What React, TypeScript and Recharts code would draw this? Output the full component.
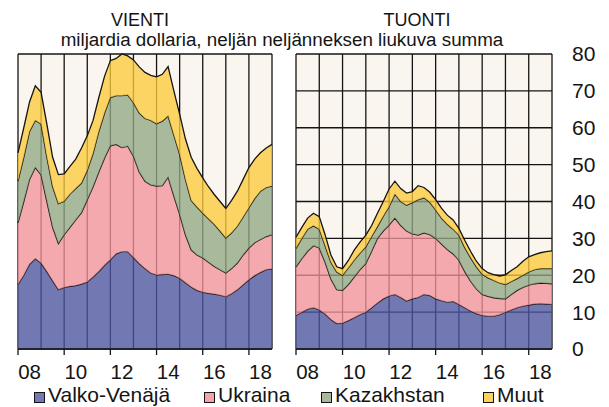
import { Area, AreaChart, CartesianGrid, XAxis, YAxis } from "recharts";

// quarterly points, 2008Q1 at the left edge
const quarters = [
  2008, 2008.25, 2008.5, 2008.75, 2009, 2009.25, 2009.5, 2009.75, 2010, 2010.25, 2010.5, 2010.75,
  2011, 2011.25, 2011.5, 2011.75, 2012, 2012.25, 2012.5, 2012.75, 2013, 2013.25, 2013.5, 2013.75,
  2014, 2014.25, 2014.5, 2014.75, 2015, 2015.25, 2015.5, 2015.75, 2016, 2016.25, 2016.5, 2016.75,
  2017, 2017.25, 2017.5, 2017.75, 2018, 2018.25, 2018.5, 2018.75, 2019,
];
const yearTicks = [2008, 2009, 2010, 2011, 2012, 2013, 2014, 2015, 2016, 2017, 2018, 2019];
const valueTicks = [0, 10, 20, 30, 40, 50, 60, 70, 80];

// VIENTI, mrd USD
const exportBelarus = [
  17.5, 20, 23, 24.5, 23.3, 21, 18.5, 16.1, 16.7, 17, 17.2, 17.6,
  18.2, 19.5, 21, 22.7, 24.2, 25.8, 26.4, 26.4, 24.8, 23.2, 21.8, 20.6,
  20.1, 20.2, 20.3, 19.9, 19.2, 18, 16.8, 15.9, 15.4, 15.1, 14.9, 14.6,
  14.2, 15, 16.1, 17.4, 18.8, 19.9, 20.8, 21.5, 21.7,
];
const exportUkraine = [
  16.7, 20, 23, 24.7, 23.9, 19, 14.5, 12.5, 14.3, 16, 17.8, 19.4,
  22.3, 24.5, 27, 29.1, 30.9, 29.7, 28.2, 28.6, 27.5, 24.8, 23.7, 23.9,
  24.1, 24.1, 26.3, 21.6, 17.3, 13, 10.1, 9.6, 9.3, 8.4, 7.5, 6.9,
  6.4, 6.8, 7.2, 8.1, 8.6, 8.9, 8.9, 9, 9.3,
];
const exportKazakhstan = [
  11.3, 12, 13, 12.8, 13.8, 12, 11, 10.8, 9.1, 9, 8.5, 8,
  8, 9, 11, 12.2, 13.1, 13.2, 14.1, 13.9, 14.5, 16, 17, 17.5,
  16.9, 17.5, 16.6, 16.5, 16.3, 15, 13.4, 13, 12.2, 11.8, 11.4, 10.5,
  9.5, 9.7, 10, 10.3, 10.9, 12, 13.1, 13.3, 13.2,
];
const exportOther = [
  7.7, 8, 8, 9.4, 8.6, 9, 8, 7.9, 7.4, 7.5, 8, 9.5,
  9.3, 9, 9.2, 10, 10, 10.1, 11.3, 10.6, 11.6, 12.5, 12.5, 12.2,
  12.7, 12.7, 13.4, 12, 10.9, 11, 11.7, 10.5, 9.5, 8.7, 8.1, 8,
  8, 8.8, 9.5, 10.2, 10.9, 10.7, 10.4, 10.7, 11.3,
];

// TUONTI, mrd USD
const importBelarus = [
  9.1, 10, 10.8, 11.2, 10.6, 9.5, 8, 6.9, 7, 7.7, 8.5, 9.3,
  10, 11.2, 12.5, 13.6, 14.4, 14.8, 14, 13, 13.6, 14, 14.8, 14.5,
  13.6, 13.1, 12.7, 12.9, 12.1, 11.2, 10.3, 9.6, 9.1, 8.9, 8.9, 9.3,
  10, 10.6, 11.2, 11.6, 11.9, 12.2, 12.3, 12.2, 12.1,
];
const importUkraine = [
  13.2, 14.5, 15.7, 16.8, 16.8, 14, 11, 9.2, 8.9, 9.8, 11, 12.2,
  13.2, 15.3, 17.5, 18.4, 19.2, 20.7, 19.5, 19, 17.6, 16.9, 16.7, 16.5,
  16.4, 15.4, 14.3, 12.9, 12, 9.8, 8.1, 6.7, 5.7, 5.4, 5, 4.4,
  3.6, 4.2, 4.7, 5.1, 5.4, 5.5, 5.6, 5.6, 5.6,
];
const importKazakhstan = [
  5, 5.5, 6, 5.4, 5.1, 4.5, 4.5, 4.8, 4.1, 4.5, 4.6, 4.5,
  4.5, 4, 3.2, 4, 5, 6.5, 6.5, 7, 8.5, 9.6, 9.5, 8.8,
  7.7, 7, 6.8, 6.7, 6.8, 6.5, 6.4, 6, 5.5, 5, 4.7, 4.2,
  3.9, 3.5, 3.2, 3.3, 3.6, 3.8, 3.9, 4, 4.1,
];
const importOther = [
  3, 3, 3, 3.4, 3.4, 3, 2, 1.4, 1.8, 2, 2.7, 3,
  3.2, 3, 3.6, 4, 4.8, 3.5, 3.5, 3.3, 3, 3.8, 2.8, 2.7,
  2.8, 2.7, 2.5, 2.5, 1.8, 2, 1.7, 1.5, 1.5, 1.4, 1.6, 1.9,
  2.6, 3, 3.2, 3.8, 4.1, 4.1, 4.3, 4.6, 4.8,
];

const SERIES = [
  { key: "belarus", name: "Valko-Venäjä", fill: "#4C55A0", swatch: "#7479B3" },
  { key: "ukraine", name: "Ukraina", fill: "#F1939A", swatch: "#F3A5A9" },
  { key: "kazakhstan", name: "Kazakhstan", fill: "#92A884", swatch: "#A7B99A" },
  { key: "other", name: "Muut", fill: "#FDCB3C", swatch: "#FDD35E" },
];

const PLOT_BG = "#FAF6EF";
const INK = "#141414";
const FONT = '"Liberation Sans", Arial, sans-serif';
const YEAR_PX = 23.2;
const LEGEND_LEFT = [34, 204, 321, 483];

const exportData = quarters.map((q, i) => ({
  q,
  belarus: exportBelarus[i],
  ukraine: exportUkraine[i],
  kazakhstan: exportKazakhstan[i],
  other: exportOther[i],
}));

const importData = quarters.map((q, i) => ({
  q,
  belarus: importBelarus[i],
  ukraine: importUkraine[i],
  kazakhstan: importKazakhstan[i],
  other: importOther[i],
}));

function YearTick({ x, y, payload }: any) {
  if (payload.value % 2 !== 0) return <g />;
  return (
    <g>
      <line x1={x} y1={y} x2={x} y2={y + 6} stroke={INK} strokeWidth={1.3} />
      <text x={x + YEAR_PX / 2} y={y + 30} textAnchor="middle" fontSize={20.5} fill={INK}>
        {String(payload.value).slice(2)}
      </text>
    </g>
  );
}

function Panel({ data, side }: { data: typeof exportData; side: "left" | "right" }) {
  const isLeft = side === "left";
  return (
    <div style={{ position: "absolute", left: isLeft ? 0 : 280, top: 0 }}>
      <AreaChart
        width={isLeft ? 280 : 329}
        height={407}
        data={data}
        margin={isLeft ? { top: 54, right: 8, bottom: 0, left: 10 } : { top: 54, right: 0, bottom: 0, left: 16 }}
      >
        <CartesianGrid stroke={INK} strokeWidth={1.3} fill={PLOT_BG} fillOpacity={1} />
        <XAxis
          dataKey="q"
          type="number"
          domain={[2008, 2019]}
          ticks={yearTicks}
          interval={0}
          height={58}
          tickSize={0}
          tickMargin={0}
          tickLine={false}
          axisLine={{ stroke: INK, strokeWidth: 1.3 }}
          tick={(props: any) => <YearTick {...props} />}
        />
        {isLeft ? (
          <YAxis
            orientation="left"
            width={8}
            domain={[0, 80]}
            ticks={valueTicks}
            interval={0}
            tick={false}
            tickSize={8}
            tickLine={{ stroke: INK, strokeWidth: 1.3 }}
            axisLine={false}
          />
        ) : (
          <YAxis
            orientation="right"
            width={57}
            domain={[0, 80]}
            ticks={valueTicks}
            interval={0}
            tickSize={0}
            tickMargin={20}
            tickLine={false}
            axisLine={false}
            tick={{ fontSize: 21, fill: INK, textAnchor: "start" }}
          />
        )}
        {SERIES.map((s) => (
          <Area
            key={s.key}
            dataKey={s.key}
            name={s.name}
            type="linear"
            stackId="total"
            fill={s.fill}
            fillOpacity={0.78}
            stroke={INK}
            strokeWidth={1.3}
            isAnimationActive={false}
          />
        ))}
      </AreaChart>
    </div>
  );
}

export default function App() {
  return (
    <div
      style={{
        position: "absolute",
        left: 0,
        top: 0,
        width: 609,
        height: 407,
        background: "#fff",
        fontFamily: FONT,
        color: INK,
        overflow: "hidden",
      }}
    >
      <Panel data={exportData} side="left" />
      <Panel data={importData} side="right" />
      <svg width={609} height={50} style={{ position: "absolute", left: 0, top: 0 }}>
        <text x={140} y={26} textAnchor="middle" fontSize={18} fill={INK}>
          VIENTI
        </text>
        <text x={417} y={26} textAnchor="middle" fontSize={18} fill={INK}>
          TUONTI
        </text>
        <text x={282} y={46} textAnchor="middle" fontSize={18.8} fill={INK}>
          miljardia dollaria, neljän neljänneksen liukuva summa
        </text>
      </svg>
      {SERIES.map((s, i) => (
        <div
          key={s.key}
          style={{
            position: "absolute",
            left: LEGEND_LEFT[i],
            top: 387,
            display: "flex",
            alignItems: "center",
            fontSize: 21,
            lineHeight: "16px",
            height: 16,
            whiteSpace: "nowrap",
          }}
        >
          <i
            style={{
              display: "inline-block",
              width: 9,
              height: 9,
              background: s.swatch,
              border: `1px solid ${INK}`,
              marginRight: 3,
              marginTop: 4,
            }}
          />
          {s.name}
        </div>
      ))}
    </div>
  );
}
